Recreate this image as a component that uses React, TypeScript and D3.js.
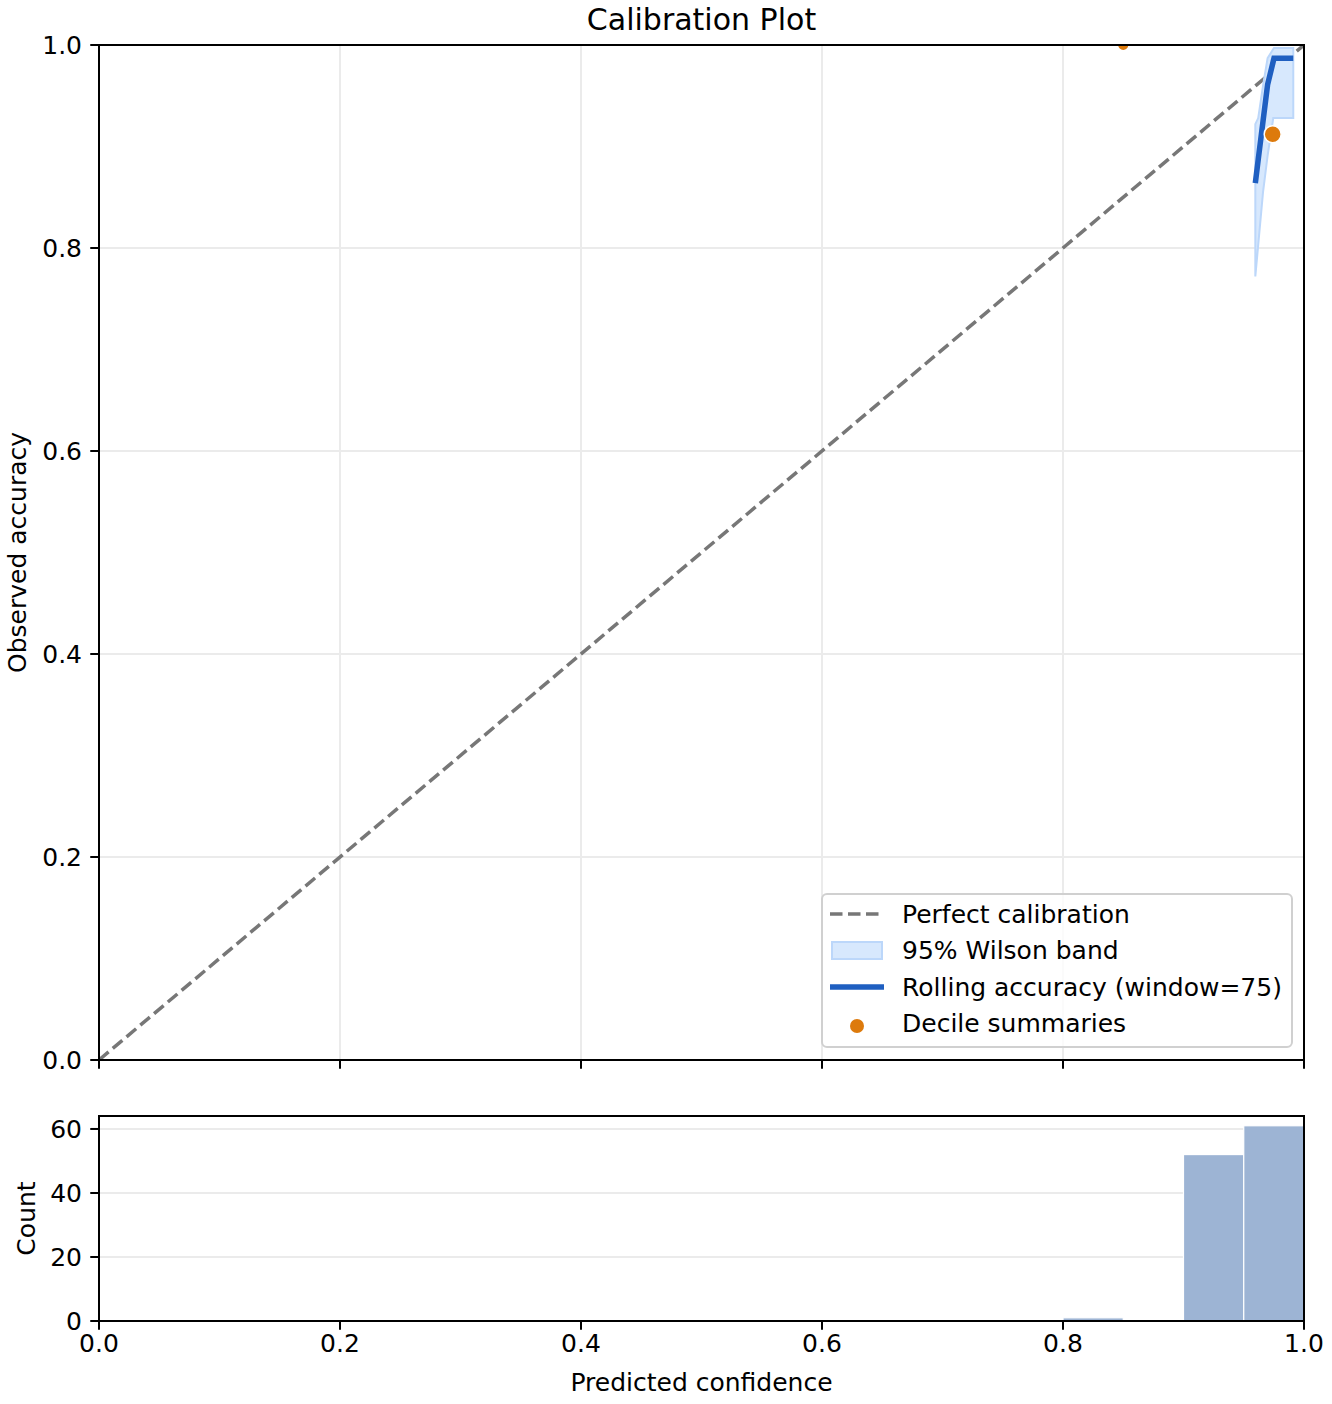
import * as d3 from 'd3'

// rolling accuracy (window=75) and Wilson band, sorted by confidence
const rollConf = [0.9596, 0.962, 0.966, 0.9698, 0.9745, 0.9751, 0.9911]
const rollAcc = [0.864, 0.887, 0.925, 0.961, 0.984, 0.987, 0.987]
const wilsonLo = [0.772, 0.803, 0.855, 0.891, 0.928, 0.928, 0.928]
const wilsonHi = [0.922, 0.928, 0.96, 0.987, 0.996, 0.997, 0.997]

// decile summaries
const decileConf = [0.85, 0.974]
const decileAcc = [1.0, 0.912]
const decileN = [1, 113]

// histogram of predicted confidence
const binStart = [0.8, 0.9, 0.95]
const binCount = [1, 52, 61]
const binWidth = 0.05

const mainTicks = [0, 0.2, 0.4, 0.6, 0.8, 1.0]
const histTicks = [0, 20, 40, 60]

const W = 1332
const H = 1404
const left = 99
const right = 1304
const mainTop = 45
const mainBottom = 1060
const histTop = 1116
const histBottom = 1321

const FONT = 'DejaVu Sans, sans-serif'

const App = () => {
  const x = d3.scaleLinear().domain([0, 1]).range([left, right])
  const y = d3.scaleLinear().domain([0, 1]).range([mainBottom, mainTop])
  const yH = d3.scaleLinear().domain([0, 64.05]).range([histBottom, histTop])
  const r = d3.scaleSqrt().domain([0, 113]).range([5.5, 8.5])

  const idx = d3.range(rollConf.length)
  const band = d3.area<number>()
    .x(i => x(rollConf[i]))
    .y0(i => y(wilsonLo[i]))
    .y1(i => y(wilsonHi[i]))
  const roll = d3.line<number>()
    .x(i => x(rollConf[i]))
    .y(i => y(rollAcc[i]))

  const fmt = d3.format('.1f')

  return (
    <svg width={W} height={H}
      style={{ position: 'absolute', left: 0, top: 0, display: 'block', background: '#fff', fontFamily: FONT }}>
      <defs>
        <clipPath id="mainclip">
          <rect x={left} y={mainTop} width={right - left} height={mainBottom - mainTop} />
        </clipPath>
      </defs>

      {/* title */}
      <text x={(left + right) / 2} y={30} textAnchor="middle" fontSize={30}>Calibration Plot</text>

      {/* main grid */}
      {mainTicks.map(t => (
        <g key={'g' + t}>
          <line x1={x(t)} x2={x(t)} y1={mainTop} y2={mainBottom} stroke="#ebebeb" strokeWidth={2} />
          <line x1={left} x2={right} y1={y(t)} y2={y(t)} stroke="#ebebeb" strokeWidth={2} />
        </g>
      ))}

      <g clipPath="url(#mainclip)">
        <line x1={x(0)} y1={y(0)} x2={x(1)} y2={y(1)} stroke="#777" strokeWidth={3.5} strokeDasharray="12.5 5.5" />
        <path d={band(idx) || ''} fill="#d7e8fd" stroke="#bcd7fa" strokeWidth={2} />
        <path d={roll(idx) || ''} fill="none" stroke="#1f5fc1" strokeWidth={5.5} />
        {decileConf.map((c, i) => (
          <circle key={i} cx={x(c)} cy={y(decileAcc[i])} r={r(decileN[i])} fill="#dd7a0c" stroke="#fff" strokeWidth={1.5} />
        ))}
      </g>

      {/* main frame and ticks */}
      <rect x={left} y={mainTop} width={right - left} height={mainBottom - mainTop} fill="none" stroke="#000" strokeWidth={2} />
      {mainTicks.map(t => (
        <g key={'t' + t}>
          <line x1={left} x2={left - 8.75} y1={y(t)} y2={y(t)} stroke="#000" strokeWidth={2} />
          <text x={left - 17} y={y(t)} dy="0.36em" textAnchor="end" fontSize={25}>{fmt(t)}</text>
          <line x1={x(t)} x2={x(t)} y1={mainBottom} y2={mainBottom + 8.75} stroke="#000" strokeWidth={2} />
        </g>
      ))}
      <text transform={`translate(26,${(mainTop + mainBottom) / 2}) rotate(-90)`} textAnchor="middle" fontSize={25}>Observed accuracy</text>

      {/* legend */}
      <g>
        <rect x={822} y={894} width={470} height={153} rx={5} fill="#fff" fillOpacity={0.8} stroke="#d0d0d0" strokeWidth={2} />
        <line x1={830} x2={884} y1={914} y2={914} stroke="#777" strokeWidth={3.5} strokeDasharray="12.5 5.5" />
        <text x={902} y={914} dy="0.36em" fontSize={25}>Perfect calibration</text>
        <rect x={832} y={942} width={50} height={17} fill="#d7e8fd" stroke="#bcd7fa" strokeWidth={2} />
        <text x={902} y={950} dy="0.36em" fontSize={25}>95% Wilson band</text>
        <line x1={830} x2={884} y1={987} y2={987} stroke="#1f5fc1" strokeWidth={5.5} />
        <text x={902} y={987} dy="0.36em" fontSize={25}>Rolling accuracy (window=75)</text>
        <circle cx={857} cy={1026} r={7} fill="#dd7a0c" />
        <text x={902} y={1023} dy="0.36em" fontSize={25}>Decile summaries</text>
      </g>

      {/* histogram */}
      {histTicks.map(t => (
        <line key={'hg' + t} x1={left} x2={right} y1={yH(t)} y2={yH(t)} stroke="#ebebeb" strokeWidth={2} />
      ))}
      {binStart.map((b, i) => (
        <rect key={'b' + i} x={x(b)} y={yH(binCount[i])} width={x(b + binWidth) - x(b)} height={yH(0) - yH(binCount[i])}
          fill="#9db4d4" stroke="#fff" strokeWidth={1.2} />
      ))}
      <rect x={left} y={histTop} width={right - left} height={histBottom - histTop} fill="none" stroke="#000" strokeWidth={2} />
      {histTicks.map(t => (
        <g key={'ht' + t}>
          <line x1={left} x2={left - 8.75} y1={yH(t)} y2={yH(t)} stroke="#000" strokeWidth={2} />
          <text x={left - 17} y={yH(t)} dy="0.36em" textAnchor="end" fontSize={25}>{t}</text>
        </g>
      ))}
      {mainTicks.map(t => (
        <g key={'hx' + t}>
          <line x1={x(t)} x2={x(t)} y1={histBottom} y2={histBottom + 8.75} stroke="#000" strokeWidth={2} />
          <text x={x(t)} y={1352} textAnchor="middle" fontSize={25}>{fmt(t)}</text>
        </g>
      ))}
      <text transform={`translate(35,${(histTop + histBottom) / 2}) rotate(-90)`} textAnchor="middle" fontSize={25}>Count</text>
      <text x={(left + right) / 2} y={1391} textAnchor="middle" fontSize={25}>Predicted confidence</text>
    </svg>
  )
}

export default App
